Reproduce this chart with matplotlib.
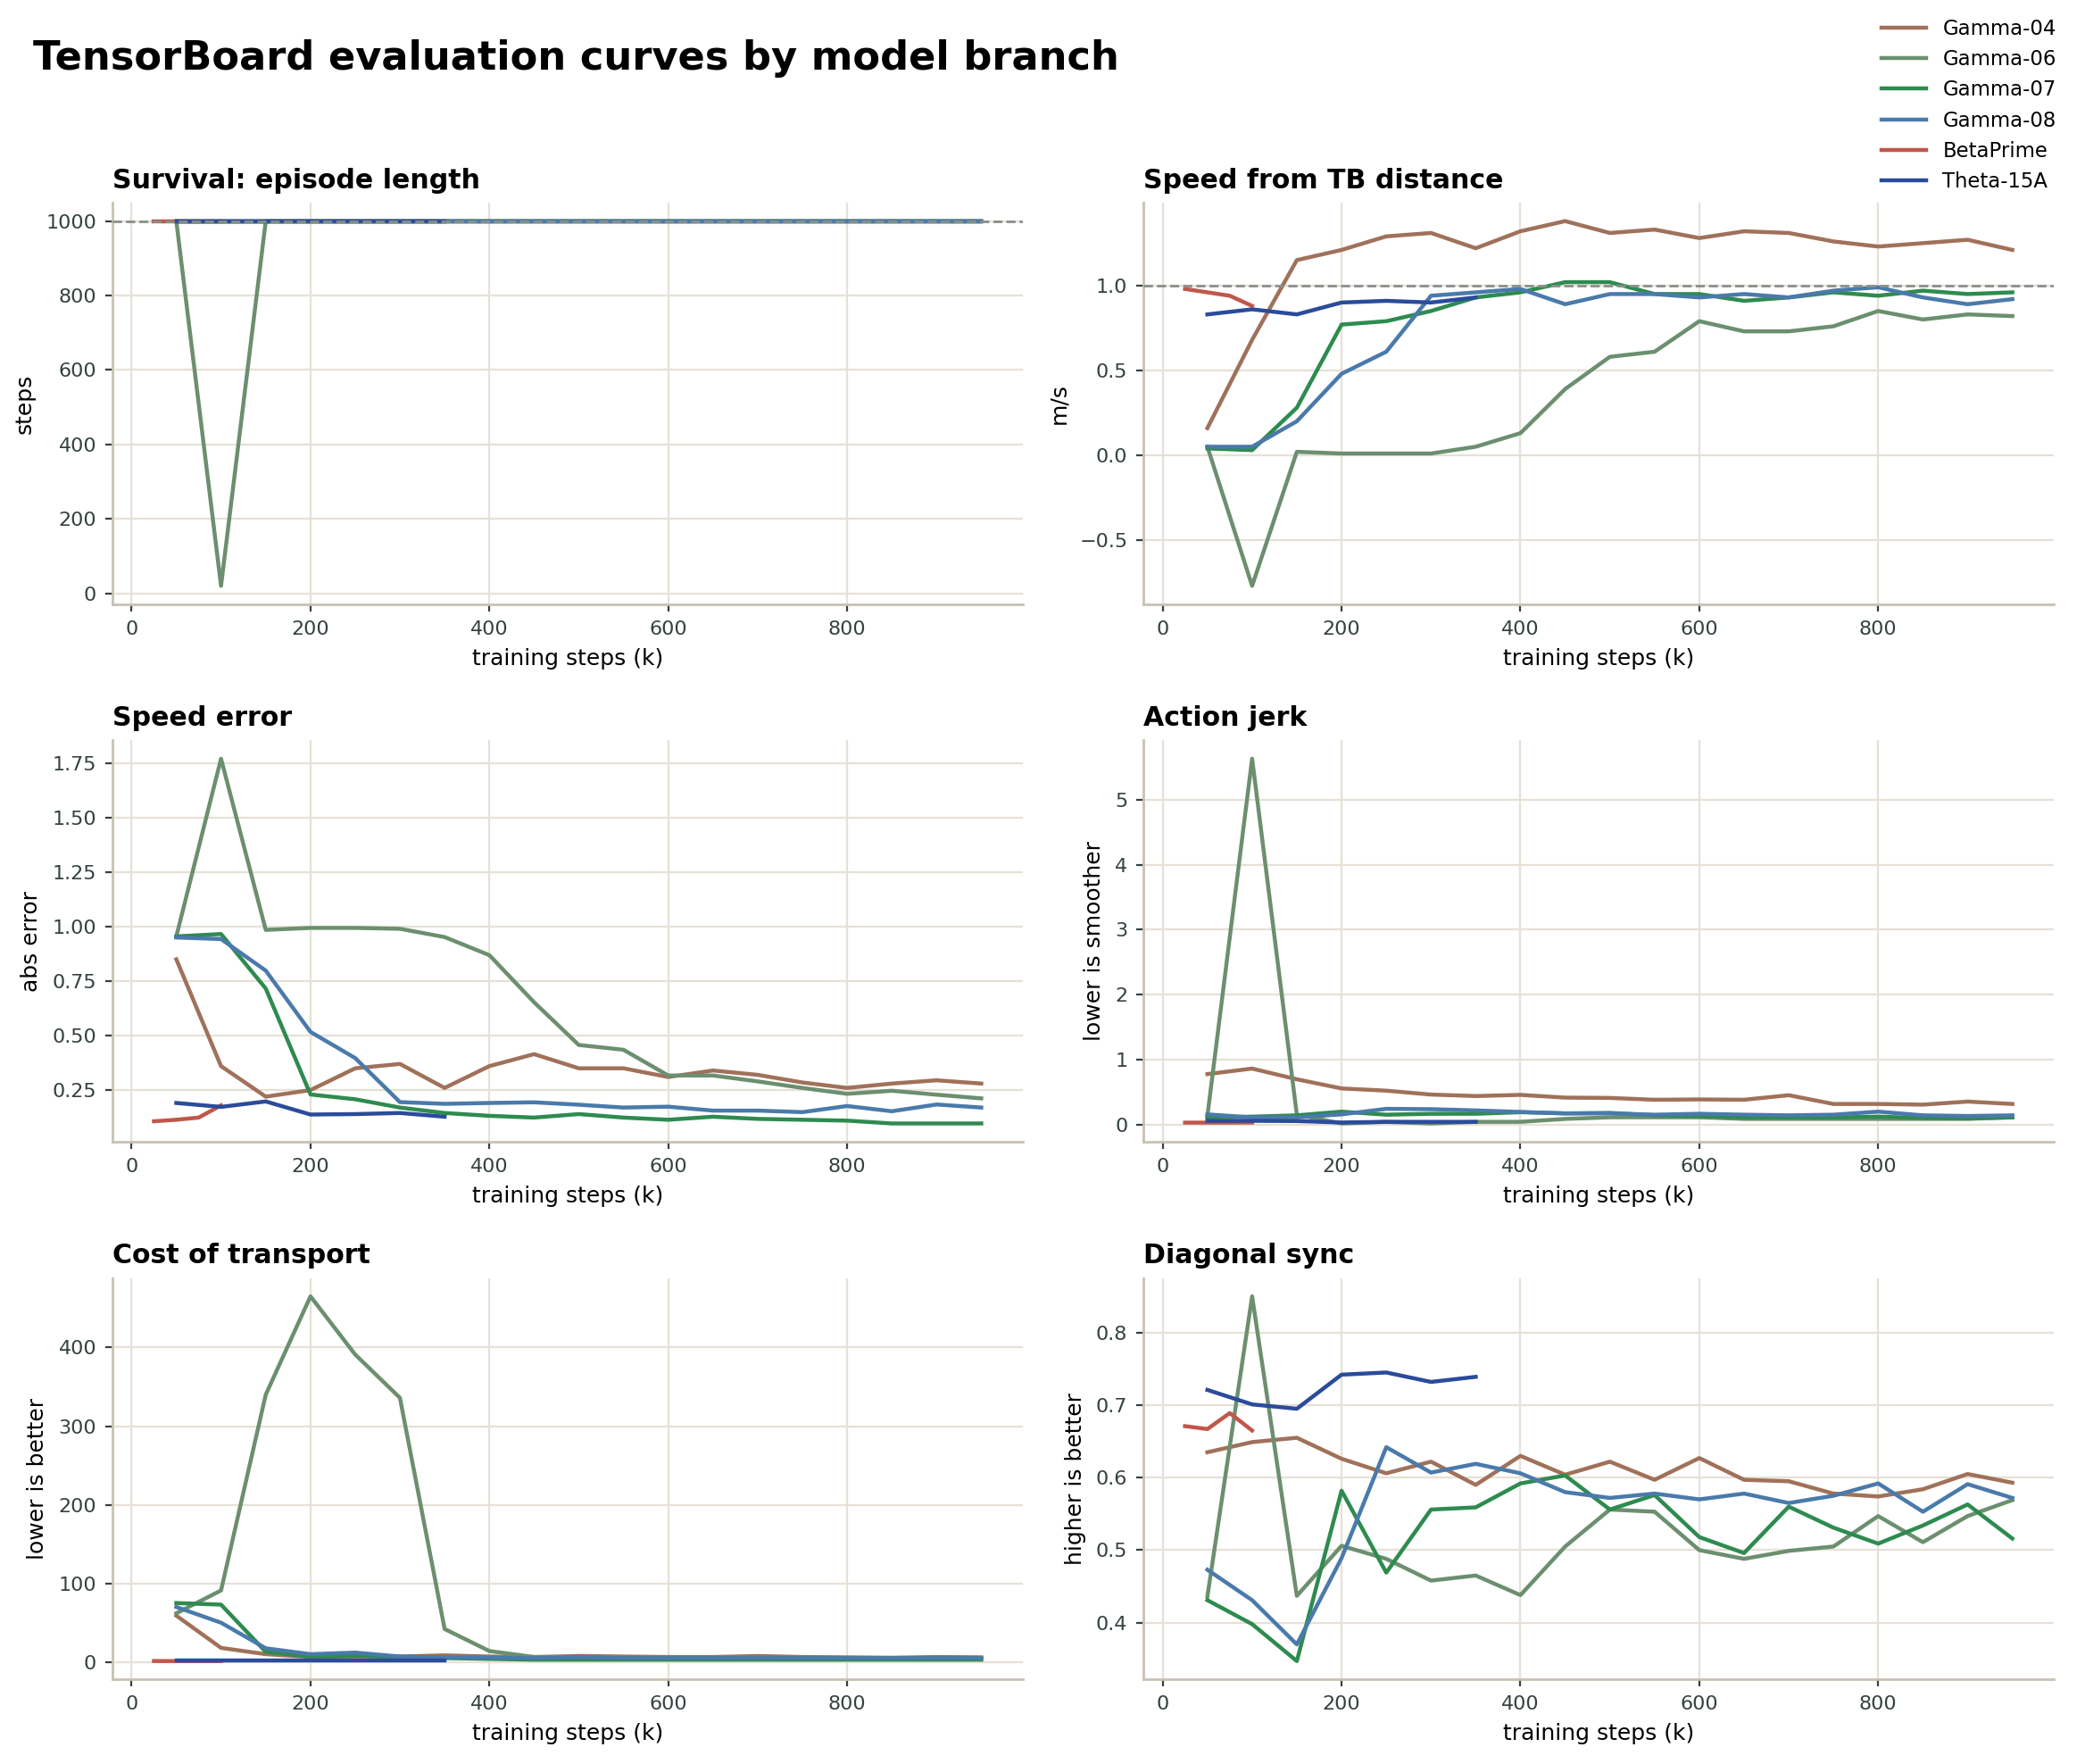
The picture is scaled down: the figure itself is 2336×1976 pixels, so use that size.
import matplotlib
matplotlib.use("Agg")
import matplotlib.pyplot as plt

steps = [50, 100, 150, 200, 250, 300, 350, 400, 450, 500,
         550, 600, 650, 700, 750, 800, 850, 900, 950]
beta_steps = [25, 50, 75, 100]
theta_steps = [50, 100, 150, 200, 250, 300, 350]

names = ["Gamma-04", "Gamma-06", "Gamma-07", "Gamma-08", "BetaPrime", "Theta-15A"]
colors = ["#a0715a", "#6b8f6f", "#2e8b4f", "#4a7aab", "#c0574a", "#2b4b9b"]

# survival: episode length (steps)
surv_g04 = [1000] * 19
surv_g06 = [1000, 20] + [1000] * 17
surv_g07 = [1000] * 19
surv_g08 = [1000] * 19
surv_beta = [1000, 1000, 1000, 1000]
surv_theta = [1000] * 7

# speed from TB distance (m/s)
spd_g04 = [0.16, 0.68, 1.15, 1.21, 1.29, 1.31, 1.22, 1.32, 1.38, 1.31,
           1.33, 1.28, 1.32, 1.31, 1.26, 1.23, 1.25, 1.27, 1.21]
spd_g06 = [0.05, -0.77, 0.02, 0.01, 0.01, 0.01, 0.05, 0.13, 0.39, 0.58,
           0.61, 0.79, 0.73, 0.73, 0.76, 0.85, 0.80, 0.83, 0.82]
spd_g07 = [0.04, 0.03, 0.28, 0.77, 0.79, 0.85, 0.93, 0.96, 1.02, 1.02,
           0.95, 0.95, 0.91, 0.93, 0.96, 0.94, 0.97, 0.95, 0.96]
spd_g08 = [0.05, 0.05, 0.20, 0.48, 0.61, 0.94, 0.96, 0.98, 0.89, 0.95,
           0.95, 0.93, 0.95, 0.93, 0.97, 0.99, 0.93, 0.89, 0.92]
spd_beta = [0.98, 0.96, 0.94, 0.88]
spd_theta = [0.83, 0.86, 0.83, 0.90, 0.91, 0.90, 0.93]

# speed error (abs error)
err_g04 = [0.85, 0.36, 0.22, 0.25, 0.35, 0.37, 0.26, 0.36, 0.415, 0.35,
           0.35, 0.31, 0.34, 0.32, 0.285, 0.26, 0.28, 0.295, 0.28]
err_g06 = [0.955, 1.77, 0.985, 0.994, 0.994, 0.99, 0.952, 0.869, 0.653, 0.457,
           0.435, 0.317, 0.317, 0.29, 0.26, 0.233, 0.247, 0.229, 0.212]
err_g07 = [0.955, 0.966, 0.716, 0.23, 0.208, 0.17, 0.145, 0.132, 0.124, 0.14,
           0.124, 0.114, 0.128, 0.118, 0.114, 0.11, 0.097, 0.097, 0.097]
err_g08 = [0.95, 0.943, 0.798, 0.517, 0.397, 0.195, 0.187, 0.191, 0.194, 0.183,
           0.17, 0.174, 0.156, 0.156, 0.149, 0.177, 0.153, 0.184, 0.17]
err_beta = [0.107, 0.114, 0.124, 0.18]
err_theta = [0.191, 0.173, 0.198, 0.138, 0.14, 0.145, 0.128]

# action jerk
jerk_g04 = [0.775, 0.86, 0.695, 0.554, 0.52, 0.46, 0.437, 0.455, 0.413, 0.408,
            0.38, 0.385, 0.38, 0.45, 0.315, 0.315, 0.305, 0.352, 0.315]
jerk_g06 = [0.13, 5.63, 0.15, 0.015, 0.04, 0.015, 0.04, 0.04, 0.085, 0.11,
            0.11, 0.11, 0.085, 0.085, 0.085, 0.085, 0.085, 0.085, 0.11]
jerk_g07 = [0.108, 0.12, 0.14, 0.197, 0.15, 0.164, 0.164, 0.188, 0.17, 0.178,
            0.14, 0.13, 0.108, 0.108, 0.108, 0.12, 0.1, 0.094, 0.108]
jerk_g08 = [0.155, 0.108, 0.108, 0.155, 0.24, 0.235, 0.216, 0.192, 0.17, 0.17,
            0.15, 0.164, 0.15, 0.14, 0.15, 0.197, 0.14, 0.13, 0.14]
jerk_beta = [0.028, 0.028, 0.028, 0.03]
jerk_theta = [0.056, 0.056, 0.052, 0.03, 0.04, 0.04, 0.04]

# cost of transport
cot_g04 = [59, 18, 10, 6.4, 7, 7, 8.5, 7, 6.4, 7.7,
           7, 6.4, 6.4, 7.7, 6.4, 6, 5.5, 6.4, 6]
cot_g06 = [62, 91, 340, 465, 391, 336, 42, 14, 6.4, 6,
           5, 5, 5, 5, 5, 5, 5, 5, 5]
cot_g07 = [75, 73, 13, 7, 8, 6.4, 5, 4, 3, 3,
           3, 3, 3, 3, 3, 3, 3, 3, 3]
cot_g08 = [70, 50, 17.5, 10, 12, 7, 6, 5.5, 5, 6,
           5, 5, 5, 5, 5, 5, 5, 5, 5]
cot_beta = [1.3, 1.2, 1.2, 1.2]
cot_theta = [2, 2, 2, 2, 2, 2, 2]

# diagonal sync
sync_g04 = [0.635, 0.649, 0.655, 0.626, 0.606, 0.622, 0.590, 0.630, 0.604, 0.622,
            0.597, 0.627, 0.597, 0.595, 0.578, 0.574, 0.584, 0.605, 0.593]
sync_g06 = [0.436, 0.85, 0.437, 0.506, 0.488, 0.458, 0.465, 0.438, 0.505, 0.556,
            0.553, 0.50, 0.488, 0.499, 0.505, 0.547, 0.511, 0.547, 0.569]
sync_g07 = [0.431, 0.398, 0.347, 0.582, 0.469, 0.556, 0.559, 0.592, 0.603, 0.556,
            0.576, 0.518, 0.496, 0.56, 0.531, 0.509, 0.534, 0.563, 0.516]
sync_g08 = [0.473, 0.431, 0.37, 0.489, 0.642, 0.607, 0.619, 0.606, 0.580, 0.572,
            0.578, 0.570, 0.578, 0.565, 0.575, 0.592, 0.553, 0.591, 0.572]
sync_beta = [0.671, 0.667, 0.689, 0.665]
sync_theta = [0.721, 0.701, 0.695, 0.742, 0.745, 0.732, 0.739]

panels = [
    ("Survival: episode length", "steps",
     [surv_g04, surv_g06, surv_g07, surv_g08, surv_beta, surv_theta], 1000),
    ("Speed from TB distance", "m/s",
     [spd_g04, spd_g06, spd_g07, spd_g08, spd_beta, spd_theta], 1.0),
    ("Speed error", "abs error",
     [err_g04, err_g06, err_g07, err_g08, err_beta, err_theta], None),
    ("Action jerk", "lower is smoother",
     [jerk_g04, jerk_g06, jerk_g07, jerk_g08, jerk_beta, jerk_theta], None),
    ("Cost of transport", "lower is better",
     [cot_g04, cot_g06, cot_g07, cot_g08, cot_beta, cot_theta], None),
    ("Diagonal sync", "higher is better",
     [sync_g04, sync_g06, sync_g07, sync_g08, sync_beta, sync_theta], None),
]

grid_c = "#e6e1d6"
spine_c = "#c9c1b2"
tick_c = "#34423f"

fig, axes = plt.subplots(3, 2, figsize=(11.68, 9.88), dpi=200)
fig.subplots_adjust(left=0.054, right=0.985, top=0.885, bottom=0.048,
                    wspace=0.133, hspace=0.34)

for ax, (title, ylab, series, ref) in zip(axes.flat, panels):
    xs_list = [steps, steps, steps, steps, beta_steps, theta_steps]
    for xs, ys, name, c in zip(xs_list, series, names, colors):
        ax.plot(xs, ys, color=c, lw=1.6, label=name)
    if ref is not None:
        ax.axhline(ref, color="#8a8f8c", lw=1.0, ls="--", zorder=5)
    ax.set_title(title, loc="left", fontsize=10.8, fontweight="bold", pad=6)
    ax.set_ylabel(ylab, fontsize=9)
    ax.set_xlabel("training steps (k)", fontsize=9)
    ax.grid(True, color=grid_c, lw=0.8)
    ax.set_axisbelow(True)
    for s in ["top", "right"]:
        ax.spines[s].set_visible(False)
    for s in ["left", "bottom"]:
        ax.spines[s].set_color(spine_c)
        ax.spines[s].set_linewidth(1.0)
    ax.tick_params(labelsize=8, colors=tick_c, length=3)

handles, labels = axes[0, 0].get_legend_handles_labels()
fig.legend(handles, labels, loc="upper right", bbox_to_anchor=(0.995, 1.0),
           frameon=False, fontsize=8.2, handlelength=2.2)

fig.text(0.016, 0.967, "TensorBoard evaluation curves by model branch",
         fontsize=16.1, fontweight="bold", ha="left", va="center")

fig.savefig("out.png", dpi=200)
